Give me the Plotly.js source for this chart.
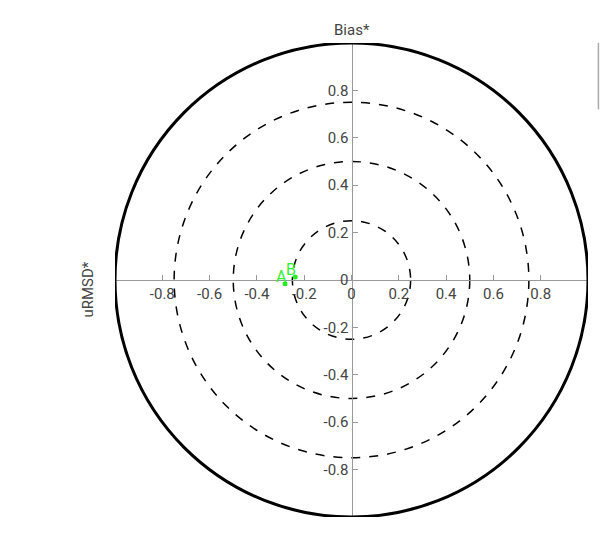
<!DOCTYPE html>
<html>
<head>
<meta charset="utf-8">
<script src="https://cdn.plot.ly/plotly-3.0.1.min.js"></script>
<style>html,body{margin:0;padding:0;background:#fff;}#chart{width:600px;height:541px;}</style>
</head>
<body>
<div id="chart"></div>
<script>
// Data
const labels = ["A", "B"];
const uRMSD = [-0.281, -0.238];
const bias = [-0.016, 0.013];
const ringRadii = [0.25, 0.5, 0.75];
const outerRadius = 1.0;
const tickVals = [-0.8, -0.6, -0.4, -0.2, 0, 0.2, 0.4, 0.6, 0.8];
const tickText = ["-0.8", "-0.6", "-0.4", "-0.2", "0", "0.2", "0.4", "0.6", "0.8"];
const xTitle = "uRMSD*";
const yTitle = "Bias*";

const green = "#33ee33";
const trace = {
  x: uRMSD, y: bias,
  mode: "markers", type: "scatter",
  marker: {color: "#22ee22", size: 5},
  hoverinfo: "none", showlegend: false, cliponaxis: false
};

const pointLabels = labels.map((t, i) => ({
  text: t, xref: "x", yref: "y", x: uRMSD[i], y: bias[i],
  xanchor: "center", yanchor: "middle", xshift: -4, yshift: 7,
  showarrow: false, font: {family: "Roboto", size: 16, color: green}
}));

const shapes = ringRadii.map(r => ({
  type: "circle", xref: "x", yref: "y",
  x0: -r, x1: r, y0: -r, y1: r,
  line: {color: "black", width: 1.5, dash: "dash"}, layer: "below"
}));
shapes.push({
  type: "circle", xref: "x", yref: "y",
  x0: -outerRadius, x1: outerRadius, y0: -outerRadius, y1: outerRadius,
  line: {color: "black", width: 3}, layer: "above"
});
shapes.push({
  type: "line", xref: "paper", yref: "paper",
  x0: 1.022, x1: 1.022, y0: 0.86, y1: 1.0,
  line: {color: "#aaaaaa", width: 1.5}
});

const axisCommon = {
  range: [-1, 1], showgrid: false, zeroline: false,
  showline: true, linecolor: "#999999", linewidth: 1,
  ticks: "inside", ticklen: 5, tickcolor: "#999999",
  tickvals: tickVals, ticktext: tickText,
  tickfont: {family: "Roboto", size: 15, color: "#444"},
  anchor: "free", position: 0.5, fixedrange: true
};

const layout = {
  width: 600, height: 541,
  margin: {l: 115, r: 12, t: 43, b: 24},
  paper_bgcolor: "white", plot_bgcolor: "white",
  xaxis: Object.assign({}, axisCommon, {side: "bottom"}),
  yaxis: Object.assign({}, axisCommon, {side: "left"}),
  shapes: shapes,
  annotations: [
    {text: yTitle, xref: "x", yref: "paper", x: 0, y: 1, yanchor: "bottom", yshift: 2,
     showarrow: false, font: {family: "Roboto", size: 15, color: "#444"}},
    {text: xTitle, xref: "paper", yref: "paper", x: -0.057, y: 0.48, textangle: -90,
     xanchor: "center", yanchor: "middle",
     showarrow: false, font: {family: "Roboto", size: 15, color: "#444"}}
  ].concat(pointLabels)
};

Plotly.newPlot("chart", [trace], layout, {displayModeBar: false, staticPlot: true});
</script>
</body>
</html>
